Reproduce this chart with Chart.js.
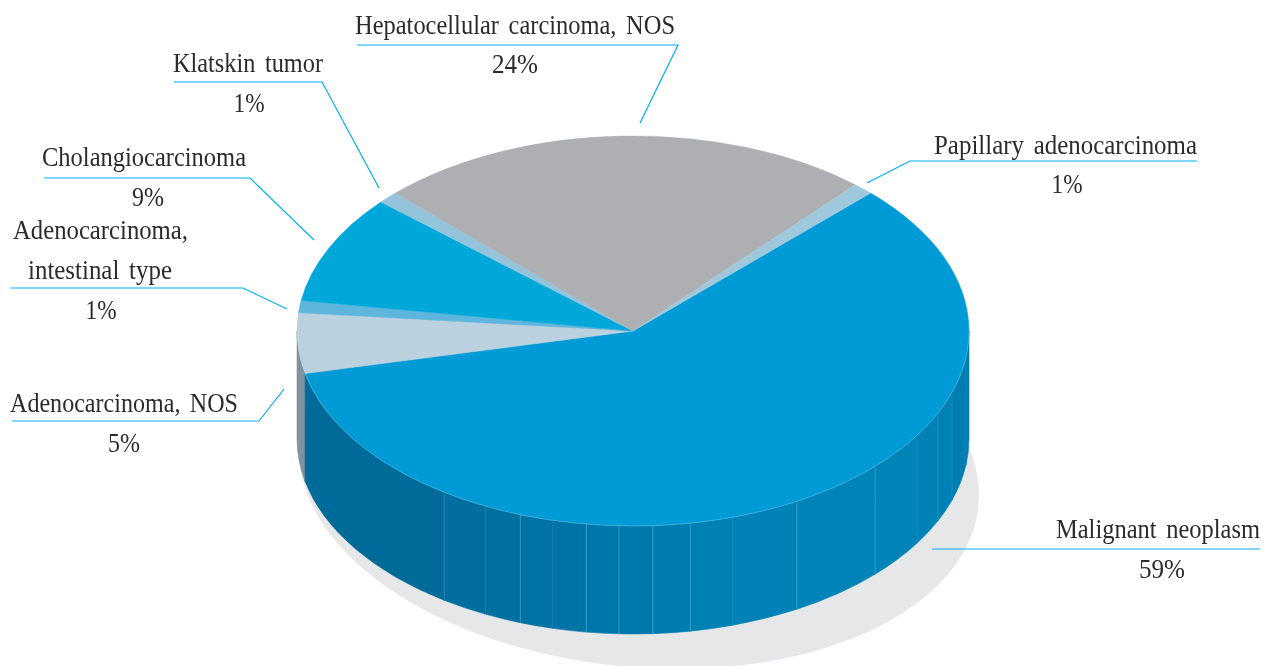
<!DOCTYPE html>
<html>
<head>
<meta charset="utf-8">
<script src="https://cdn.jsdelivr.net/npm/chart.js@4"></script>
<style>
  html, body { margin: 0; padding: 0; background: #fff; }
  canvas { display: block; }
</style>
</head>
<body>
<canvas id="pie" width="1264" height="666"></canvas>
<script>
const categories = [
  "Malignant neoplasm",
  "Adenocarcinoma, NOS",
  "Adenocarcinoma, intestinal type",
  "Cholangiocarcinoma",
  "Klatskin tumor",
  "Hepatocellular carcinoma, NOS",
  "Papillary adenocarcinoma",
];
const values = [59, 5, 1, 9, 1, 24, 1];

const topColors = ["#009bd6", "#bbd1df", "#5fb6dc", "#00a8da", "#93c4dc", "#aeafb3", "#a0c8dc"];
const sideColors = ["#0078ab", "#7f939f", "#4a8cab", "#0080aa", "#6f97aa", "#85868a", "#7a9aaa"];

// the front wall of the big slice is split into flat facets (degrees, clockwise from 3 o'clock)
const facetAngles = [0, 7.7, 18.3, 24.8, 32.3, 43.9, 60.8, 72.7, 80.2, 86.6, 92.4, 98, 103.8, 109.6, 116.1, 124.2, 167.4];
const facetColors = ["#007bae", "#007eb1", "#0080b4", "#0082b6", "#0084b8", "#0084b8", "#0082b6", "#0080b3",
  "#007db0", "#007aad", "#0077aa", "#0074a7", "#0072a4", "#0070a1", "#006e9e", "#006a99"];
const seamAlpha = [0.1, 0.15, 0.2, 0.15, 0.25, 0.35, 0.12, 0.3, 0.4, 0.35, 0.4, 0.1, 0.35, 0.12, 0.25];

const labelFont = '28px "Liberation Serif"';
const calloutLabels = [
  { lines: [["Hepatocellular carcinoma, NOS", 355, 34, 320]], pct: ["24%", 515, 73, 46], leader: [[357, 45], [678, 45], [640, 123]] },
  { lines: [["Klatskin tumor", 173, 72, 150]], pct: ["1%", 249, 112, 31], leader: [[174, 82], [322, 82], [379, 188]] },
  { lines: [["Cholangiocarcinoma", 42, 166, 204]], pct: ["9%", 148, 206, 32], leader: [[44, 178], [250, 178], [314, 240]] },
  { lines: [["Adenocarcinoma,", 13, 239, 175], ["intestinal type", 28, 279, 144]], pct: ["1%", 101, 319, 31], leader: [[10, 288], [243, 288], [287, 309]] },
  { lines: [["Adenocarcinoma, NOS", 10, 412, 228]], pct: ["5%", 124, 452, 32], leader: [[12, 421], [259, 421], [284, 389]] },
  { lines: [["Papillary adenocarcinoma", 934, 154, 263]], pct: ["1%", 1067, 193, 31], leader: [[1197, 161], [910, 161], [867, 183]] },
  { lines: [["Malignant neoplasm", 1056, 538, 204]], pct: ["59%", 1162, 578, 46], leader: [[1260, 549], [932, 549]] },
];

const disc = { cx: 633, cy: 331, rx: 336, ry: 195, depth: 108 };

function wallPiece(ctx, a0, a1, fill) {
  ctx.beginPath();
  ctx.ellipse(disc.cx, disc.cy, disc.rx, disc.ry, 0, a0, a1);
  ctx.ellipse(disc.cx, disc.cy + disc.depth, disc.rx, disc.ry, 0, a1, a0, true);
  ctx.closePath();
  ctx.fillStyle = fill;
  ctx.strokeStyle = fill;
  ctx.lineWidth = 0.6;
  ctx.fill();
  ctx.stroke();
}

const fakeDepth = {
  id: "fakeDepth",
  beforeDatasetsDraw(chart) {
    const ctx = chart.ctx;
    const arcs = chart.getDatasetMeta(0).data;

    // soft shadow under the disc
    ctx.save();
    ctx.beginPath();
    ctx.ellipse(639, 473, 341, 194, 5.5 * Math.PI / 180, 0, Math.PI * 2);
    ctx.fillStyle = "#e6e7e9";
    ctx.fill();
    ctx.restore();

    // side walls, only the front half can be seen
    arcs.forEach((arc, i) => {
      if (i === 0) return;
      const a0 = Math.max(arc.startAngle, 0);
      const a1 = Math.min(arc.endAngle, Math.PI);
      if (a1 > a0) wallPiece(ctx, a0, a1, sideColors[i]);
    });
    for (let i = 0; i < facetColors.length; i++) {
      wallPiece(ctx, facetAngles[i] * Math.PI / 180, facetAngles[i + 1] * Math.PI / 180, facetColors[i]);
    }
    // seams between facets
    ctx.lineWidth = 1;
    facetAngles.slice(1, -1).forEach((deg, i) => {
      const t = deg * Math.PI / 180;
      const x = disc.cx + disc.rx * Math.cos(t);
      const y = disc.cy + disc.ry * Math.sin(t);
      ctx.strokeStyle = "rgba(150,210,235," + seamAlpha[i] + ")";
      ctx.beginPath();
      ctx.moveTo(x, y);
      ctx.lineTo(x, y + disc.depth);
      ctx.stroke();
    });

    // squash the round pie into the top ellipse
    const r = arcs[0].outerRadius;
    ctx.save();
    ctx.translate(disc.cx, disc.cy);
    ctx.scale(disc.rx / r, disc.ry / r);
    ctx.translate(-arcs[0].x, -arcs[0].y);
  },
  afterDatasetsDraw(chart) {
    const ctx = chart.ctx;
    ctx.restore();

    // light rim where the top meets the wall
    ctx.beginPath();
    ctx.ellipse(disc.cx, disc.cy, disc.rx, disc.ry, 0, 0, facetAngles[facetAngles.length - 1] * Math.PI / 180);
    ctx.strokeStyle = "rgba(170,220,240,0.45)";
    ctx.lineWidth = 0.7;
    ctx.stroke();

    ctx.font = labelFont;
    ctx.wordSpacing = "4px";
    ctx.fillStyle = "#2b2b2b";
    ctx.textBaseline = "alphabetic";
    calloutLabels.forEach((lab) => {
      ctx.textAlign = "left";
      lab.lines.forEach(([text, x, y, w]) => ctx.fillText(text, x, y, w));
      ctx.textAlign = "center";
      ctx.fillText(lab.pct[0], lab.pct[1], lab.pct[2], lab.pct[3]);
      ctx.beginPath();
      lab.leader.forEach(([x, y], k) => (k ? ctx.lineTo(x, y) : ctx.moveTo(x, y)));
      ctx.strokeStyle = "#00aeef";
      ctx.lineWidth = 1.2;
      ctx.stroke();
    });
  },
};

new Chart(document.getElementById("pie"), {
  type: "pie",
  data: {
    labels: categories,
    datasets: [{ data: values, backgroundColor: topColors, borderColor: topColors, borderWidth: 0.6 }],
  },
  options: {
    responsive: false,
    animation: false,
    rotation: 45,
    layout: { padding: 0 },
    plugins: { legend: { display: false }, tooltip: { enabled: false } },
  },
  plugins: [fakeDepth],
});
</script>
</body>
</html>
